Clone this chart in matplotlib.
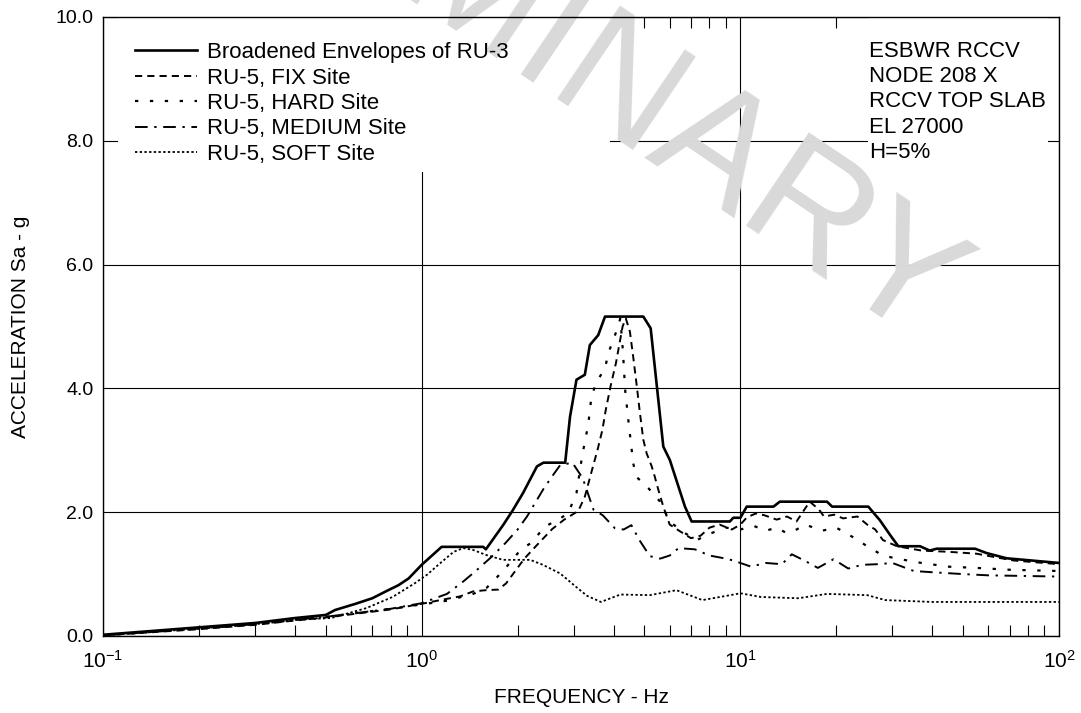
import matplotlib
matplotlib.use("Agg")
import matplotlib.pyplot as plt
from matplotlib.patches import Rectangle
from matplotlib.ticker import LogLocator, NullFormatter, FixedLocator, FormatStrFormatter

plt.rcParams["font.family"] = ["Liberation Sans", "DejaVu Sans"]
plt.rcParams["mathtext.fontset"] = "custom"
plt.rcParams["mathtext.rm"] = "Liberation Sans"
plt.rcParams["mathtext.it"] = "Liberation Sans"

# Broadened envelope of RU-3
env_f = [0.1, 0.2, 0.3, 0.4, 0.5, 0.535, 0.62, 0.70, 0.785, 0.845, 0.91, 1.0, 1.155, 1.56, 1.59,
         1.80, 1.92, 2.08, 2.30, 2.41, 2.82, 2.92, 3.06, 3.25, 3.37, 3.58, 3.76, 4.96, 5.23, 5.73,
         6.01, 6.70, 7.03, 9.27, 9.5, 10.0, 10.47, 12.7, 13.3, 18.7, 19.4, 25.2, 27.4, 29.8, 31.3,
         36.6, 39.3, 41.3, 54.5, 59.2, 68.5, 100]
env_a = [0.02, 0.14, 0.21, 0.29, 0.34, 0.42, 0.52, 0.61, 0.74, 0.82, 0.93, 1.15, 1.44, 1.44, 1.40,
         1.79, 2.01, 2.31, 2.74, 2.80, 2.80, 3.54, 4.14, 4.22, 4.70, 4.86, 5.16, 5.16, 4.97, 3.06,
         2.84, 2.09, 1.85, 1.85, 1.91, 1.91, 2.09, 2.09, 2.17, 2.17, 2.09, 2.09, 1.87, 1.60, 1.45,
         1.45, 1.38, 1.41, 1.41, 1.34, 1.255, 1.18]

# RU-5, FIX site
fix_f = [0.1, 0.2, 0.3, 0.4, 0.5, 0.6, 0.8, 1.0, 1.17, 1.32, 1.45, 1.59, 1.74, 1.84, 1.94, 2.1,
         2.3, 2.57, 2.8, 3.1, 3.25, 3.41, 3.56, 3.69, 3.78, 3.92, 4.07, 4.27, 4.37, 4.5, 4.61, 4.72,
         4.84, 4.96, 5.08, 5.27, 5.39, 5.53, 5.73, 6.0, 6.47, 7.0, 7.5, 8.0, 8.6, 9.4, 10.0, 10.5,
         11.2, 11.9, 13.0, 14.0, 15.0, 16.5, 17.6, 18.3, 19.7, 21.0, 23.3, 25.0, 26.5, 28.0, 31.0,
         37.0, 45.0, 55.0, 62.0, 72.0, 100]
fix_a = [0.01, 0.11, 0.18, 0.25, 0.30, 0.35, 0.43, 0.52, 0.59, 0.64, 0.72, 0.74, 0.75, 0.85, 1.01,
         1.25, 1.47, 1.73, 1.88, 2.02, 2.25, 2.65, 3.0, 3.33, 3.65, 4.05, 4.41, 5.0, 5.13, 4.92, 4.51,
         4.08, 3.60, 3.17, 2.95, 2.74, 2.57, 2.36, 2.09, 1.80, 1.69, 1.58, 1.62, 1.75, 1.80, 1.72,
         1.80, 1.92, 1.98, 1.95, 1.88, 1.93, 1.85, 2.17, 2.05, 1.93, 1.96, 1.90, 1.93, 1.80, 1.72,
         1.55, 1.45, 1.38, 1.36, 1.33, 1.28, 1.22, 1.16]

# RU-5, HARD site
hard_f = [0.1, 0.2, 0.3, 0.4, 0.5, 0.6, 0.8, 1.0, 1.2, 1.45, 1.6, 1.8, 2.05, 2.2, 2.44, 2.66, 2.88,
          3.06, 3.19, 3.33, 3.41, 3.54, 3.76, 3.85, 3.99, 4.1, 4.2, 4.28, 4.35, 4.45, 4.61, 4.72,
          5.14, 5.6, 6.0, 6.6, 7.3, 8.0, 9.0, 10.0, 11.0, 12.0, 13.0, 14.0, 15.0, 16.0, 18.0, 20.0,
          22.5, 25.0, 28.0, 31.0, 37.0, 45.0, 55.0, 70.0, 100]
hard_a = [0.01, 0.12, 0.19, 0.26, 0.31, 0.36, 0.44, 0.51, 0.57, 0.68, 0.78, 1.05, 1.40, 1.50, 1.77,
          1.87, 1.98, 2.31, 2.92, 3.41, 3.87, 4.11, 4.32, 4.57, 4.78, 4.95, 5.13, 4.60, 3.97, 3.49,
          2.79, 2.57, 2.39, 2.17, 1.85, 1.68, 1.55, 1.65, 1.75, 1.72, 1.78, 1.70, 1.75, 1.66, 1.72,
          1.80, 1.70, 1.75, 1.60, 1.45, 1.30, 1.25, 1.18, 1.12, 1.10, 1.07, 1.05]

# RU-5, MEDIUM site
med_f = [0.1, 0.2, 0.3, 0.4, 0.5, 0.6, 0.8, 1.0, 1.2, 1.35, 1.47, 1.65, 1.83, 2.0, 2.14, 2.3, 2.42,
         2.6, 2.72, 2.97, 3.2, 3.46, 3.7, 4.04, 4.3, 4.55, 4.82, 5.2, 5.6, 6.0, 6.4, 7.2, 8.0, 8.8,
         9.5, 10.8, 12.0, 13.5, 14.5, 16.0, 17.5, 19.6, 21.8, 24.1, 27.0, 30.0, 35.0, 40.0, 50.0,
         60.0, 100]
med_a = [0.01, 0.12, 0.19, 0.26, 0.31, 0.36, 0.44, 0.53, 0.68, 0.88, 1.04, 1.27, 1.50, 1.72, 1.93,
         2.20, 2.39, 2.62, 2.76, 2.80, 2.55, 2.04, 1.95, 1.74, 1.72, 1.79, 1.55, 1.29, 1.25, 1.30,
         1.42, 1.40, 1.30, 1.26, 1.22, 1.12, 1.18, 1.16, 1.32, 1.21, 1.10, 1.24, 1.09, 1.15, 1.16,
         1.18, 1.05, 1.03, 1.00, 0.98, 0.96]

# RU-5, SOFT site
soft_f = [0.1, 0.2, 0.3, 0.4, 0.52, 0.67, 0.81, 0.95, 1.04, 1.11, 1.26, 1.35, 1.45, 1.59, 1.8, 2.0,
          2.19, 2.4, 2.72, 3.04, 3.3, 3.65, 4.2, 5.2, 6.3, 7.6, 9.3, 10.0, 11.6, 15.2, 18.7, 25.0,
          28.5, 40.0, 100]
soft_a = [0.01, 0.12, 0.19, 0.26, 0.29, 0.45, 0.63, 0.85, 0.99, 1.12, 1.36, 1.42, 1.39, 1.31, 1.23,
          1.23, 1.23, 1.15, 1.01, 0.80, 0.65, 0.55, 0.67, 0.66, 0.74, 0.58, 0.66, 0.69, 0.63, 0.61,
          0.68, 0.66, 0.58, 0.55, 0.55]

info_lines = ["ESBWR RCCV", "NODE 208 X", "RCCV TOP SLAB", "EL 27000", "H=5%"]

fig = plt.figure(figsize=(10.81, 7.13), dpi=100)
ax = fig.add_axes([0.0953, 0.108, 0.8844, 0.8682])

ax.grid(True, which="major", color="black", linewidth=0.8, zorder=1)

# white boxes behind legend and note (they hide the grid)
ax.add_patch(Rectangle((0.0157, 0.7496), 0.5146, 0.2504, transform=ax.transAxes,
                       facecolor="white", edgecolor="none", zorder=2))
ax.add_patch(Rectangle((0.800, 0.74), 0.1885, 0.26, transform=ax.transAxes,
                       facecolor="white", edgecolor="none", zorder=2))

# "PRELIMINARY" watermark, mostly cut off by the top edge
ax.text(0.446, 0.99, "PRELIMINARY", transform=fig.transFigure, fontsize=118,
        color="#d9d9d9", rotation=-34, rotation_mode="anchor", ha="center", va="center",
        clip_on=False, zorder=3)

ax.plot(env_f, env_a, color="black", lw=1.9, label="Broadened Envelopes of RU-3", zorder=5)
ax.plot(fix_f, fix_a, color="black", lw=1.4, dashes=(3.7, 2.6), label="RU-5, FIX Site", zorder=4)
ax.plot(hard_f, hard_a, color="black", lw=1.6, dashes=(1.5, 5.2), label="RU-5, HARD Site", zorder=4)
ax.plot(med_f, med_a, color="black", lw=1.4, dashes=(6.5, 3.4, 1.2, 3.4),
        label="RU-5, MEDIUM Site", zorder=4)
ax.plot(soft_f, soft_a, color="black", lw=1.3, dashes=(1.3, 1.3), label="RU-5, SOFT Site", zorder=4)

ax.set_xscale("log")
ax.set_xlim(0.1, 100)
ax.set_ylim(0, 10)
ax.yaxis.set_major_locator(FixedLocator([0, 2, 4, 6, 8, 10]))
ax.yaxis.set_major_formatter(FormatStrFormatter("%.1f"))
ax.xaxis.set_major_locator(LogLocator(base=10, numticks=10))
ax.xaxis.set_minor_locator(LogLocator(base=10, subs=range(2, 10), numticks=10))
ax.xaxis.set_minor_formatter(NullFormatter())
ax.tick_params(axis="x", which="minor", direction="in", length=8, width=0.8, top=True, bottom=True)
ax.tick_params(axis="x", which="major", direction="in", length=0, labelsize=15, pad=10)
ax.tick_params(axis="y", which="major", direction="in", length=0, labelsize=14, pad=7)
for s in ax.spines.values():
    s.set_linewidth(1.0)
    s.set_zorder(6)

ax.set_xlabel("FREQUENCY - Hz", fontsize=15, labelpad=12)
ax.set_ylabel("ACCELERATION Sa - g", fontsize=15, labelpad=18)

leg = ax.legend(loc="upper left", bbox_to_anchor=(0.0, 1.011), frameon=False, fontsize=16,
                handlelength=2.8, handletextpad=0.45, labelspacing=0.2, borderpad=0.4,
                borderaxespad=1.04)
leg.set_zorder(7)

ax.text(0.801, 0.9615, "\n".join(info_lines), transform=ax.transAxes, fontsize=16,
        ha="left", va="top", linespacing=1.27, zorder=7)

fig.savefig("out.png", dpi=100)
